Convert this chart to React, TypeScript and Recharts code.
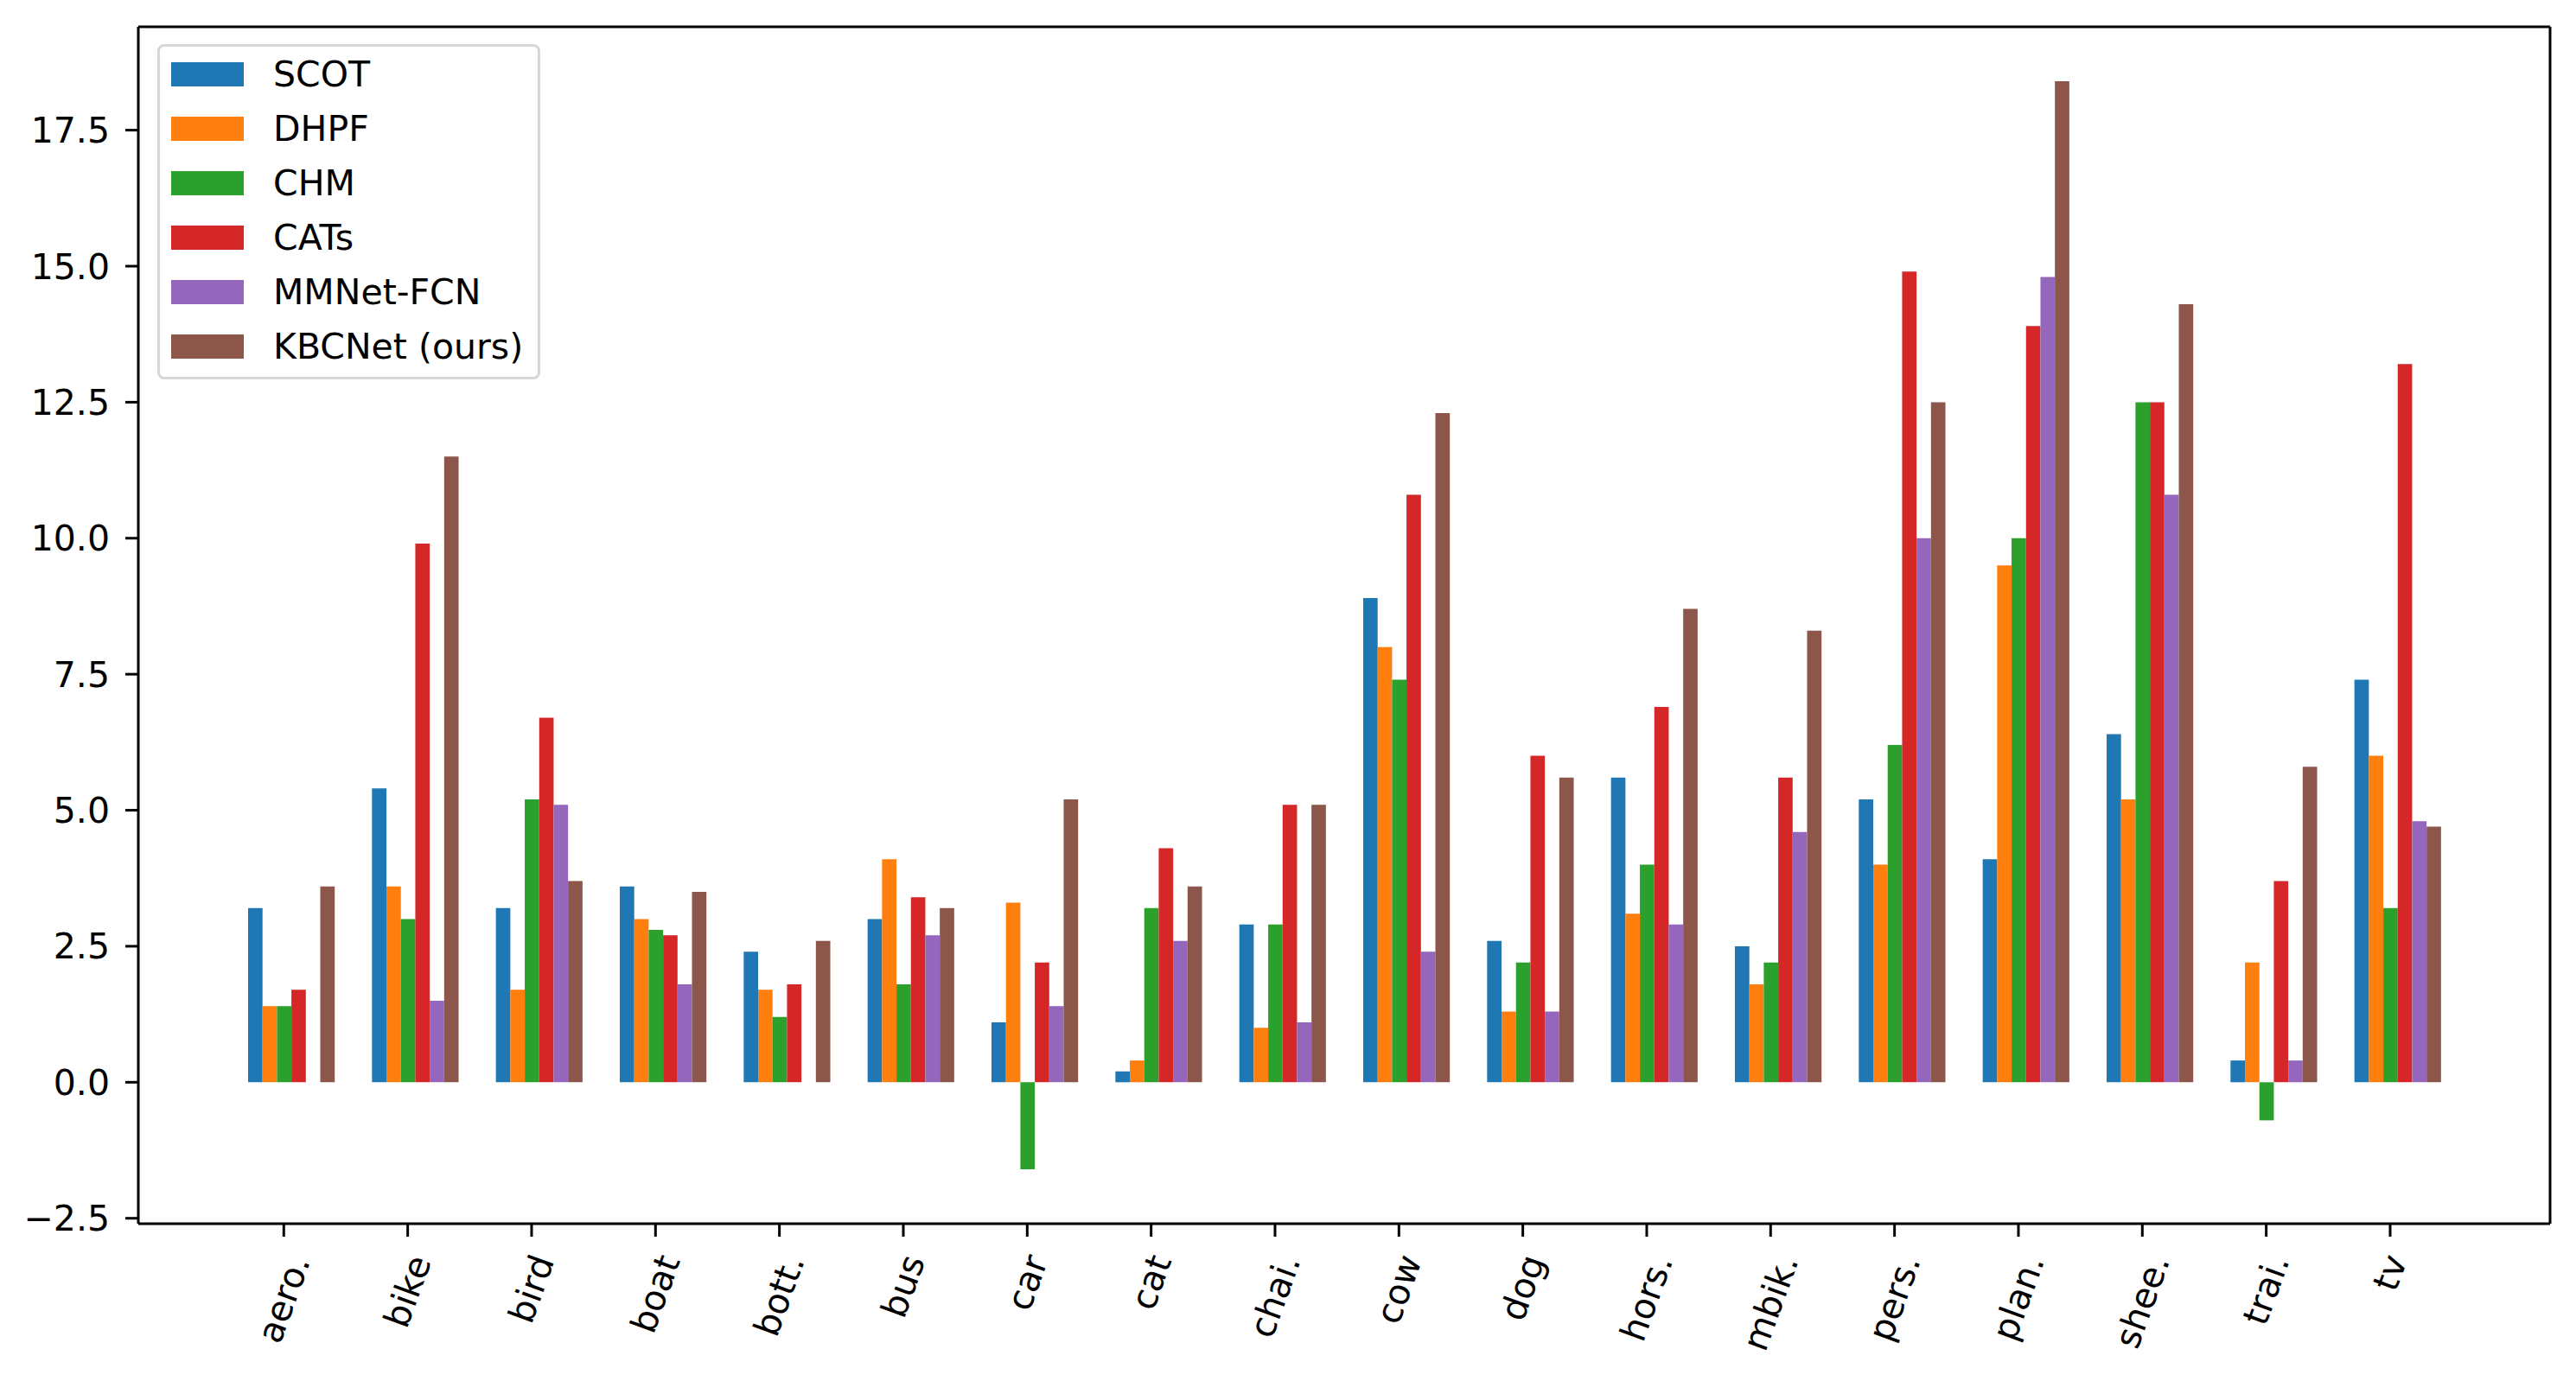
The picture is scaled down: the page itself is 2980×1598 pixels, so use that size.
import React from "react";
import { Bar, BarChart, Legend, XAxis, YAxis } from "recharts";

const categories = [
  "aero.", "bike", "bird", "boat", "bott.", "bus", "car", "cat", "chai.",
  "cow", "dog", "hors.", "mbik.", "pers.", "plan.", "shee.", "trai.", "tv",
];

const scot = [3.2, 5.4, 3.2, 3.6, 2.4, 3.0, 1.1, 0.2, 2.9, 8.9, 2.6, 5.6, 2.5, 5.2, 4.1, 6.4, 0.4, 7.4];
const dhpf = [1.4, 3.6, 1.7, 3.0, 1.7, 4.1, 3.3, 0.4, 1.0, 8.0, 1.3, 3.1, 1.8, 4.0, 9.5, 5.2, 2.2, 6.0];
const chm = [1.4, 3.0, 5.2, 2.8, 1.2, 1.8, -1.6, 3.2, 2.9, 7.4, 2.2, 4.0, 2.2, 6.2, 10.0, 12.5, -0.7, 3.2];
const cats = [1.7, 9.9, 6.7, 2.7, 1.8, 3.4, 2.2, 4.3, 5.1, 10.8, 6.0, 6.9, 5.6, 14.9, 13.9, 12.5, 3.7, 13.2];
const mmnet = [0, 1.5, 5.1, 1.8, 0, 2.7, 1.4, 2.6, 1.1, 2.4, 1.3, 2.9, 4.6, 10.0, 14.8, 10.8, 0.4, 4.8];
const kbcnet = [3.6, 11.5, 3.7, 3.5, 2.6, 3.2, 5.2, 3.6, 5.1, 12.3, 5.6, 8.7, 8.3, 12.5, 18.4, 14.3, 5.8, 4.7];

const yTicks = [-2.5, 0, 2.5, 5, 7.5, 10, 12.5, 15, 17.5];
const Y_MIN = -2.6;
const Y_MAX = 19.4;

const series = [
  { key: "scot", name: "SCOT", color: "#1f77b4", values: scot },
  { key: "dhpf", name: "DHPF", color: "#ff7f0e", values: dhpf },
  { key: "chm", name: "CHM", color: "#2ca02c", values: chm },
  { key: "cats", name: "CATs", color: "#d62728", values: cats },
  { key: "mmnet", name: "MMNet-FCN", color: "#9467bd", values: mmnet },
  { key: "kbcnet", name: "KBCNet (ours)", color: "#8c564b", values: kbcnet },
];

const data = categories.map((cat, i) => {
  const row: Record<string, any> = { cat };
  series.forEach((s) => (row[s.key] = s.values[i]));
  return row;
});

const FONT = "'DejaVu Sans', sans-serif";
const FS = 41;
const BAR = 16.7;
const FRAME = { stroke: "#000", strokeWidth: 3 };

// rough DejaVu Sans advance widths (em) for label box estimate
const cw: Record<string, number> = {
  a: 0.613, b: 0.635, c: 0.55, d: 0.635, e: 0.615, h: 0.634, i: 0.278, k: 0.579,
  l: 0.278, m: 0.974, n: 0.634, o: 0.612, p: 0.635, r: 0.411, s: 0.521, t: 0.392,
  u: 0.634, v: 0.592, w: 0.818, g: 0.635, y: 0.592, ".": 0.318,
};
const textLen = (s: string) => s.split("").reduce((a, c) => a + (cw[c] ?? 0.6), 0) * FS;

const XTick = (props: any) => {
  const { x, y, payload } = props;
  const tx = x - BAR / 2;
  const L = textLen(String(payload.value));
  const h = FS * 1.164;
  const rad = (70 * Math.PI) / 180;
  const boxH = L * Math.sin(rad) + h * Math.cos(rad);
  const top = y + 14.6;
  const cy = top + boxH / 2;
  return (
    <g>
      <line x1={tx} x2={tx} y1={y - 15} y2={y} stroke="#000" strokeWidth={3} />
      <text
        x={tx}
        y={cy}
        textAnchor="middle"
        dominantBaseline="central"
        transform={`rotate(-70, ${tx}, ${cy})`}
        fontFamily={FONT}
        fontSize={FS}
        fill="#000"
      >
        {payload.value}
      </text>
    </g>
  );
};

const order = series.map((s) => s.name);

const LegendBox = (props: any) => {
  const items = [...(props.payload || [])].sort(
    (a: any, b: any) => order.indexOf(a.value) - order.indexOf(b.value)
  );
  return (
    <div
      style={{
        position: "relative",
        width: 443,
        height: 388,
        boxSizing: "border-box",
        border: "3px solid #d6d6d6",
        borderRadius: 8,
        background: "rgba(255,255,255,0.8)",
        fontFamily: FONT,
        fontSize: FS,
      }}
    >
      {items.map((it: any, i: number) => (
        <div key={it.value} style={{ position: "absolute", left: 13, top: 17.5 + i * 63, height: 28 }}>
          <div style={{ position: "absolute", left: 0, top: 0, width: 84, height: 28, background: it.color }} />
          <div
            style={{
              position: "absolute",
              left: 118,
              top: -16,
              height: 60,
              lineHeight: "60px",
              whiteSpace: "nowrap",
              color: "#000",
            }}
          >
            {it.value}
          </div>
        </div>
      ))}
    </div>
  );
};

export default function App() {
  return (
    <div style={{ position: "absolute", left: 0, top: 0, background: "#fff" }}>
      <BarChart
        width={2980}
        height={1598}
        data={data}
        barGap={0}
        margin={{ top: 30, right: 29, left: 0, bottom: 0 }}
      >
        <XAxis
          dataKey="cat"
          height={182}
          interval={0}
          padding={{ left: 105, right: 105 }}
          tickLine={false}
          tickSize={15}
          tickMargin={0}
          axisLine={FRAME}
          tick={<XTick />}
        />
        <XAxis
          xAxisId="top"
          dataKey="cat"
          orientation="top"
          height={1}
          interval={0}
          tick={false}
          tickLine={false}
          axisLine={FRAME}
        />
        <YAxis
          width={160}
          domain={[Y_MIN, Y_MAX]}
          allowDataOverflow
          ticks={yTicks}
          interval={0}
          tickSize={15}
          tickMargin={18}
          tickFormatter={(v: number) => v.toFixed(1).replace("-", "\u2212")}
          tick={{ fill: "#000", fontSize: FS, fontFamily: FONT }}
          tickLine={FRAME}
          axisLine={FRAME}
        />
        <YAxis
          yAxisId="right"
          orientation="right"
          width={1}
          domain={[Y_MIN, Y_MAX]}
          allowDataOverflow
          ticks={yTicks}
          tick={false}
          tickLine={false}
          axisLine={FRAME}
        />
        <Legend
          layout="vertical"
          align="center"
          verticalAlign="middle"
          content={<LegendBox />}
          wrapperStyle={{ left: 182, top: 51, width: 443, height: 388 }}
        />
        {series.map((s) => (
          <Bar
            key={s.key}
            dataKey={s.key}
            name={s.name}
            fill={s.color}
            barSize={BAR}
            isAnimationActive={false}
          />
        ))}
      </BarChart>
    </div>
  );
}
